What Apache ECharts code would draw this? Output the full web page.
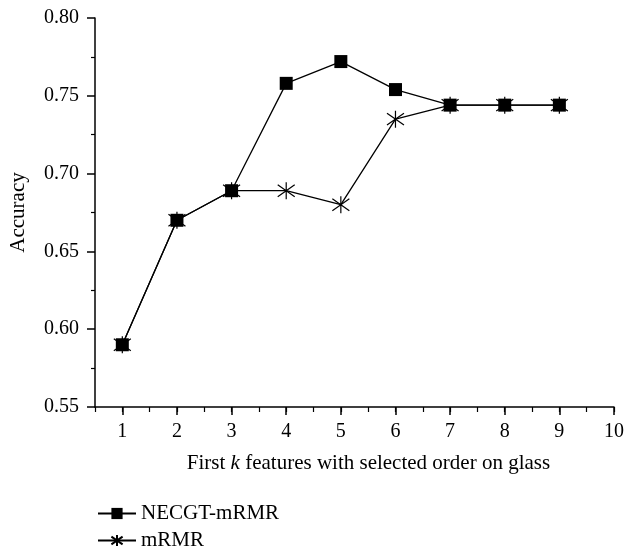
<!DOCTYPE html>
<html>
<head>
	<meta charset="utf-8" />
	<title>Accuracy on glass</title>
	<script src="https://cdn.jsdelivr.net/npm/echarts@6/dist/echarts.min.js"></script>
</head>
<body style="margin:0;background:#fff;">
	<div id="main" style="width: 627px;height: 546px;"></div>
	<script type="text/javascript">
		// data
		var kValues = [1, 2, 3, 4, 5, 6, 7, 8, 9];
		var necgtAcc = [0.590, 0.670, 0.689, 0.758, 0.772, 0.754, 0.744, 0.744, 0.744];
		var mrmrAcc = [0.590, 0.670, 0.689, 0.689, 0.680, 0.735, 0.744, 0.744, 0.744];
		var xTicks = [1, 2, 3, 4, 5, 6, 7, 8, 9, 10];

		var font = 'Liberation Serif';
		var star = 'path://M0,-10L0,10M-7,-7L7,7M-7,7L7,-7';

		function pairs(ys) {
			return kValues.map(function (k, i) { return [k, ys[i]]; });
		}

		var myChart = echarts.init(document.getElementById('main'));

		var legendText = { fontFamily: font, fontSize: 21, color: '#000' };

		var option = {
			animation: false,
			grid: { left: 95, right: 10, top: 18, bottom: 139 },
			// two legends, one per row
			legend: [{
				left: 92,
				top: 498,
				itemWidth: 38,
				itemHeight: 14,
				textStyle: legendText,
				data: ['NECGT-mRMR']
			}, {
				left: 92,
				top: 525,
				itemWidth: 38,
				itemHeight: 14,
				textStyle: legendText,
				data: ['mRMR']
			}],
			xAxis: [{
				type: 'value',
				min: 0.5,
				max: 10,
				position: 'bottom',
				axisLine: { lineStyle: { color: '#000', width: 1.5 } },
				axisTick: { length: 8, customValues: xTicks, lineStyle: { color: '#000', width: 1.5 } },
				axisLabel: { customValues: xTicks, color: '#000', fontFamily: font, fontSize: 20, margin: 15 },
				splitLine: { show: false },
				name: '{a|First }{i|k}{a| features with selected order on glass}',
				nameLocation: 'middle',
				nameGap: 46,
				nameTextStyle: {
					padding: [0, 0, 0, 28],
					rich: {
						a: { fontFamily: font, fontSize: 21, color: '#000' },
						i: { fontFamily: font, fontSize: 21, fontStyle: 'italic', color: '#000' }
					}
				}
			}, {
				type: 'value',
				min: 0.5,
				max: 10,
				interval: 0.5,
				position: 'bottom',
				axisLine: { show: false },
				axisTick: { length: 5, lineStyle: { color: '#000', width: 1.2 } },
				axisLabel: { show: false },
				splitLine: { show: false }
			}],
			yAxis: {
				type: 'value',
				min: 0.55,
				max: 0.80,
				interval: 0.05,
				axisLine: { show: true, lineStyle: { color: '#000', width: 1.5 } },
				axisTick: { show: true, length: 8, lineStyle: { color: '#000', width: 1.5 } },
				minorTick: { show: true, splitNumber: 2, length: 4, lineStyle: { color: '#000', width: 1.2 } },
				axisLabel: {
					color: '#000', fontFamily: font, fontSize: 20, margin: 16,
					formatter: function (v) { return v.toFixed(2); }
				},
				splitLine: { show: false },
				name: 'Accuracy',
				nameLocation: 'middle',
				nameGap: 66,
				nameTextStyle: { fontFamily: font, fontSize: 21, color: '#000' }
			},
			series: [{
				name: 'mRMR',
				type: 'line',
				data: pairs(mrmrAcc),
				symbol: star,
				symbolSize: 17,
				itemStyle: { color: '#000', borderColor: '#000', borderWidth: 1.2 },
				lineStyle: { color: '#000', width: 1.3 },
				z: 2
			}, {
				name: 'NECGT-mRMR',
				type: 'line',
				data: pairs(necgtAcc),
				symbol: 'rect',
				symbolSize: 13,
				itemStyle: { color: '#000' },
				lineStyle: { color: '#000', width: 1.3 },
				z: 3
			}]
		};

		myChart.setOption(option);
	</script>
</body>
</html>
